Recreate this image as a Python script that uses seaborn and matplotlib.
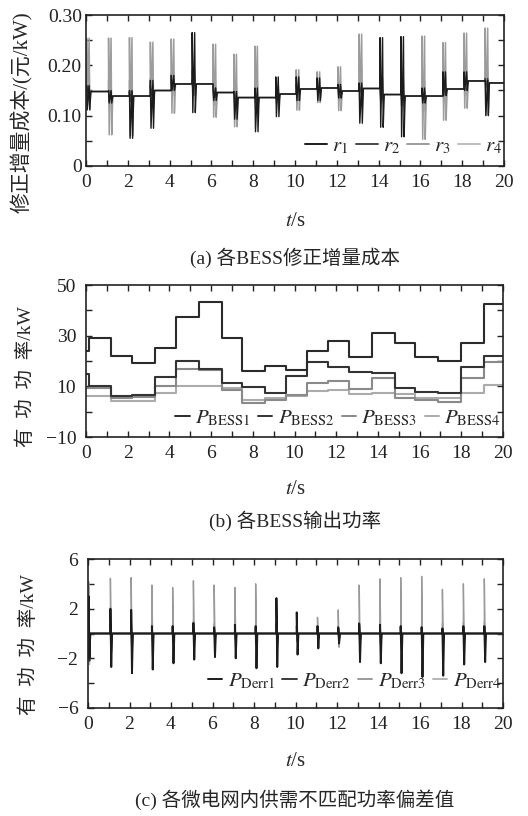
import numpy as np
import pandas as pd
import matplotlib
matplotlib.use("Agg")
import matplotlib.pyplot as plt
from matplotlib.lines import Line2D
from matplotlib.ticker import MultipleLocator, FixedLocator, FuncFormatter
import seaborn as sns

# ---------------- data ----------------
# disturbance instants (s)
event_t = [0.03, 1.08, 2.08, 3.08, 4.08, 5.08, 6.08, 7.08, 8.08, 9.08,
           10.06, 11.06, 12.06, 13.07, 14.07, 15.07, 16.08, 17.08, 18.09, 19.1]

# (a) corrected incremental cost: settled level after each event
cost_level = [0.148, 0.139, 0.139, 0.150, 0.163, 0.163, 0.146, 0.136, 0.136, 0.143,
              0.153, 0.155, 0.149, 0.154, 0.142, 0.139, 0.139, 0.153, 0.169, 0.165]
r1_peak = [0.160, 0.150, 0.150, 0.170, 0.180, 0.265, 0.155, 0.148, 0.155, 0.177,
           0.177, 0.175, 0.162, 0.165, 0.255, 0.257, 0.155, 0.187, 0.187, 0.170]
r1_dip = [0.112, 0.125, 0.055, 0.075, 0.150, 0.106, 0.130, 0.093, 0.068, 0.098,
          0.130, 0.130, 0.135, 0.085, 0.077, 0.058, 0.125, 0.140, 0.150, 0.100]
r2_peak = [0.158, 0.148, 0.148, 0.160, 0.172, 0.172, 0.155, 0.145, 0.145, 0.152,
           0.162, 0.160, 0.156, 0.162, 0.152, 0.148, 0.148, 0.162, 0.178, 0.174]
r2_dip = [0.138, 0.128, 0.128, 0.140, 0.152, 0.152, 0.136, 0.126, 0.126, 0.133,
          0.143, 0.144, 0.140, 0.145, 0.133, 0.130, 0.130, 0.144, 0.160, 0.156]
r3_peak = [0.254, 0.254, 0.255, 0.246, 0.252, 0.190, 0.242, 0.222, 0.238, 0.160,
           0.191, 0.187, 0.197, 0.262, 0.175, 0.170, 0.258, 0.245, 0.264, 0.274]
r3_dip = [0.111, 0.062, 0.060, 0.120, 0.105, 0.140, 0.097, 0.078, 0.120, 0.125,
          0.111, 0.126, 0.110, 0.130, 0.130, 0.120, 0.053, 0.091, 0.115, 0.101]
r4_peak = [0.200, 0.170, 0.170, 0.175, 0.185, 0.180, 0.170, 0.160, 0.165, 0.158,
           0.170, 0.170, 0.165, 0.200, 0.165, 0.160, 0.170, 0.175, 0.190, 0.190]
r4_dip = [0.120, 0.110, 0.100, 0.125, 0.140, 0.140, 0.120, 0.110, 0.115, 0.125,
          0.130, 0.135, 0.130, 0.125, 0.125, 0.120, 0.110, 0.125, 0.140, 0.135]

# (b) BESS output power (kW), piecewise constant from each start time
bess_t = [0, 0.15, 1.2, 2.2, 3.3, 4.3, 5.4, 6.5, 7.5, 8.6,
          9.6, 10.6, 11.6, 12.6, 13.7, 14.8, 15.8, 16.9, 18.0, 19.1]
p_bess1 = [24, 29, 22, 19.3, 25, 37.5, 43.4, 29, 16.2, 18.2,
           16.4, 24, 28, 21.7, 30.9, 27, 21.5, 20.1, 27.2, 42.4]
p_bess2 = [15, 10.1, 6.2, 6.6, 13.6, 20.1, 16.7, 11.4, 9.6, 7.5,
           14.1, 19.7, 17.7, 15.8, 15.4, 9.2, 7.9, 7.5, 17.7, 22.0]
p_bess3 = [9.5, 9.5, 5.5, 5.8, 10, 17, 16.5, 8.5, 3.3, 4.5,
           6.5, 11.4, 12, 8.8, 13.2, 5.5, 4.5, 4.0, 13.2, 19.7]
p_bess4 = [6, 6, 4.4, 4.4, 7.5, 10, 10, 9.5, 4.8, 5.5,
           6.2, 8.3, 8.5, 7, 7.3, 7, 5.5, 5.2, 7.3, 10.5]

# (c) supply/demand mismatch deviation (kW): zero between events
derr_level = [0.0] * 20
derr1_peak = [3.0, 2.0, 1.9, 0.6, 0.6, 0.85, 0.5, 0.7, 0.6, 2.85,
              1.7, 0.6, 0.5, 0.8, 0.7, 0.6, 0.5, 0.4, 0.6, 0.6]
derr1_dip = [-2.0, -2.7, -3.2, -2.9, -2.4, -2.1, -1.9, -2.0, -2.8, -2.7,
             -1.7, -1.2, -0.8, -2.3, -2.4, -3.2, -3.5, -3.4, -2.5, -2.3]
derr2_peak = [1.5, 0.8, 0.8, 0.5, 0.5, 0.5, 0.4, 0.4, 0.4, 0.8,
              0.6, 0.4, 0.4, 0.6, 0.6, 0.5, 0.5, 0.4, 0.5, 0.5]
derr2_dip = [-2.2, -1.5, -1.4, -0.6, -0.6, -0.5, -0.5, -0.5, -0.7, -0.8,
             -0.6, -0.4, -0.5, -0.7, -0.8, -0.7, -0.6, -0.6, -0.6, -0.6]
derr3_peak = [4.2, 4.45, 4.5, 3.9, 3.7, 4.25, 3.9, 3.7, 4.0, 1.0,
              1.2, 1.3, 1.9, 3.9, 4.4, 4.5, 4.6, 3.55, 4.0, 4.4]
derr3_dip = [-1.5, -1.2, -1.0, -0.8, -0.8, -0.6, -0.5, -0.5, -0.6, -0.5,
             -0.8, -0.6, -1.1, -0.8, -0.6, -0.6, -0.5, -0.5, -0.6, -0.6]
derr4_peak = [3.8, 1.0, 1.0, 0.9, 0.8, 1.0, 0.8, 0.8, 0.9, 0.6,
              0.6, 0.5, 0.6, 0.9, 1.0, 1.0, 1.0, 0.8, 0.9, 0.9]
derr4_dip = [-2.5, -0.6, -0.6, -0.5, -0.5, -0.5, -0.5, -0.5, -0.5, -0.5,
             -0.5, -0.4, -0.5, -0.5, -0.6, -0.6, -0.6, -0.5, -0.5, -0.5]

# y tick labels of each panel
yticks_a = [0, 0.10, 0.20, 0.30]
yticks_b = [-10, 10, 30, 50]
yticks_c = [-6, -2, 2, 6]

T_END = 20.0


def transient_path(level, peak, dip, ring=True):
    """Polyline: settled level, oscillation at each event, then new level."""
    xs, ys = [], []
    prev = level[0]
    for k, te in enumerate(event_t):
        if ring:
            xs += [te, te, te + 0.03, te + 0.12, te + 0.15, te + 0.2]
            ys += [prev, peak[k], dip[k], peak[k], dip[k], level[k]]
        else:
            xs += [te, te, te + 0.04, te + 0.08]
            ys += [prev, peak[k], dip[k], level[k]]
        prev = level[k]
        nxt = event_t[k + 1] if k + 1 < len(event_t) else T_END
        xs.append(nxt)
        ys.append(level[k])
    return pd.DataFrame({"t": xs, "v": ys})


def step_frame(vals):
    return pd.DataFrame({"t": bess_t + [T_END], "v": list(vals) + [vals[-1]]})


# ---------------- style ----------------
sns.set_theme(style="ticks", rc={
    "xtick.direction": "in", "ytick.direction": "in",
    "xtick.top": True, "ytick.right": True,
    "xtick.major.size": 4, "xtick.minor.size": 4,
    "ytick.major.size": 4, "ytick.minor.size": 4,
    "xtick.major.width": 1.0, "ytick.major.width": 1.0,
    "xtick.minor.width": 1.0, "ytick.minor.width": 1.0,
    "axes.linewidth": 1.2, "axes.edgecolor": "#222222",
    "xtick.color": "#222222", "ytick.color": "#222222",
})
plt.rcParams["font.family"] = ["Liberation Serif", "Noto Sans CJK SC"]
plt.rcParams["mathtext.fontset"] = "stix"
plt.rcParams["axes.unicode_minus"] = True

W, H = 528, 816
fig = plt.figure(figsize=(W / 100, H / 100), dpi=100)


def px_axes(left, top, right, bottom):
    return fig.add_axes([left / W, 1 - bottom / H, (right - left) / W, (bottom - top) / H])


def ftext(x, y, s, **kw):
    fig.text(x / W, 1 - y / H, s, ha="center", va="center", **kw)


def style_axis(ax, ymin, ymax, yticks, ymin_step, ypad, yfmt=None):
    ax.set_xlim(0, 20)
    ax.set_ylim(ymin, ymax)
    ax.xaxis.set_major_locator(MultipleLocator(2))
    ax.xaxis.set_minor_locator(MultipleLocator(1))
    ax.yaxis.set_major_locator(FixedLocator(yticks))
    ax.yaxis.set_minor_locator(MultipleLocator(ymin_step))
    ax.tick_params(which="both", top=True, right=True)
    ax.tick_params(axis="x", labelsize=14, pad=6, colors="#222222")
    ax.tick_params(axis="y", labelsize=14, pad=ypad, colors="#222222")
    ax.set_xlabel("")
    ax.set_ylabel("")
    if yfmt is not None:
        ax.yaxis.set_major_formatter(yfmt)
    for s in ax.spines.values():
        s.set_visible(True)


def add_legend(ax, colors, labels, hl, yfrac, fs):
    handles = [Line2D([0], [0], color=c, lw=1.4) for c in colors]
    ax.legend(handles, labels, ncol=4, loc="center right",
              bbox_to_anchor=(0.995, yfrac), frameon=False, fontsize=fs,
              handlelength=hl, handletextpad=0.25, columnspacing=0.35,
              borderaxespad=0, borderpad=0)


# ---------------- (a) ----------------
ax1 = px_axes(86, 15, 504, 166)
cols_a = ["#1c1c1c", "#474747", "#9c9c9c", "#bdbdbd"]
lws_a = [1.0, 1.0, 1.1, 1.1]
series_a = [(r1_peak, r1_dip), (r2_peak, r2_dip), (r3_peak, r3_dip), (r4_peak, r4_dip)]
for i in [3, 2, 1, 0]:
    pk, dp = series_a[i]
    sns.lineplot(data=transient_path(cost_level, pk, dp), x="t", y="v", ax=ax1,
                 sort=False, estimator=None, color=cols_a[i], lw=lws_a[i], legend=False)
style_axis(ax1, 0, 0.30, yticks_a, 0.05, 3,
           yfmt=FuncFormatter(lambda v, p: "0" if abs(v) < 1e-9 else f"{v:.2f}"))
add_legend(ax1, cols_a, [r"$r_1$", r"$r_2$", r"$r_3$", r"$r_4$"], 1.05, 0.13, 15)

ftext(22, 112, "修正增量成本/(元/kW)", rotation=90, fontsize=15)
ftext(295, 222, r"$t$/s", fontsize=15)
ftext(295, 258, "(a) 各BESS修正增量成本", fontsize=14)

# ---------------- (b) ----------------
ax2 = px_axes(86, 285, 503, 437)
cols_b = ["#2b2b2b", "#333333", "#8a8a8a", "#ababab"]
series_b = [p_bess1, p_bess2, p_bess3, p_bess4]
for i in [3, 2, 1, 0]:
    sns.lineplot(data=step_frame(series_b[i]), x="t", y="v", ax=ax2, sort=False,
                 estimator=None, color=cols_b[i], lw=1.5, drawstyle="steps-post",
                 legend=False)
style_axis(ax2, -10, 50, yticks_b, 10, 7)
add_legend(ax2, cols_b, [r"$P_{\mathrm{BESS1}}$", r"$P_{\mathrm{BESS2}}$",
                         r"$P_{\mathrm{BESS3}}$", r"$P_{\mathrm{BESS4}}$"], 0.7, 0.125, 15)

ftext(26, 377, "有  功  功  率/kW", rotation=90, fontsize=14)
ftext(295, 490, r"$t$/s", fontsize=15)
ftext(295, 521, "(b) 各BESS输出功率", fontsize=14)

# ---------------- (c) ----------------
ax3 = px_axes(88, 559, 503, 708)
cols_c = ["#1c1c1c", "#3a3a3a", "#9a9a9a", "#b5b5b5"]
series_c = [(derr1_peak, derr1_dip), (derr2_peak, derr2_dip),
            (derr3_peak, derr3_dip), (derr4_peak, derr4_dip)]
lws_c = [1.4, 1.3, 1.0, 1.0]
for i in [3, 2, 1, 0]:
    pk, dp = series_c[i]
    sns.lineplot(data=transient_path(derr_level, pk, dp, ring=False), x="t", y="v",
                 ax=ax3, sort=False, estimator=None, color=cols_c[i], lw=lws_c[i],
                 legend=False)
style_axis(ax3, -6, 6, yticks_c, 2, 7)
add_legend(ax3, cols_c, [r"$P_{\mathrm{Derr1}}$", r"$P_{\mathrm{Derr2}}$",
                         r"$P_{\mathrm{Derr3}}$", r"$P_{\mathrm{Derr4}}$"], 0.7, 0.175, 15)

ftext(29, 645, "有  功  功  率/kW", rotation=90, fontsize=14)
ftext(295, 762, r"$t$/s", fontsize=15)
ftext(295, 800, "(c) 各微电网内供需不匹配功率偏差值", fontsize=14)

fig.savefig("out.png", dpi=100, facecolor="white")
